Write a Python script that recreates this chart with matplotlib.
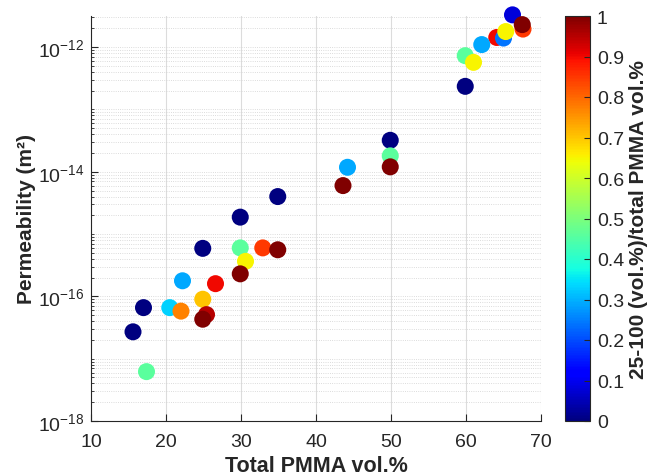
import numpy as np
import matplotlib
matplotlib.use("Agg")
import matplotlib.pyplot as plt
from matplotlib.ticker import LogLocator, FixedLocator, NullFormatter

plt.rcParams['font.family'] = ['Liberation Sans', 'DejaVu Sans']

# Total PMMA vol.% (x), permeability m^2 (y), ratio (color)
pmma = [66.2, 67.6, 67.5, 64.1, 65.0, 65.3, 62.1, 59.9, 61.0, 59.9,
        49.9, 49.9, 49.9, 44.2, 43.6, 34.9, 32.9, 34.9,
        29.9, 24.9, 29.9, 30.6, 29.9, 26.6, 22.2, 24.9,
        17.0, 20.5, 22.0, 25.4, 24.9, 15.6, 17.4]
perm = [3.3e-12, 1.95e-12, 2.3e-12, 1.43e-12, 1.4e-12, 1.78e-12, 1.1e-12, 7.3e-13, 5.7e-13, 2.35e-13,
        3.2e-14, 1.8e-14, 1.2e-14, 1.18e-14, 6.0e-15, 4.0e-15, 6.0e-16, 5.6e-16,
        1.87e-15, 5.9e-16, 6.0e-16, 3.65e-16, 2.3e-16, 1.6e-16, 1.78e-16, 9.0e-17,
        6.6e-17, 6.6e-17, 5.8e-17, 5.1e-17, 4.3e-17, 2.7e-17, 6.2e-18]
ratio = [0.08, 0.85, 1.0, 0.9, 0.24, 0.65, 0.29, 0.46, 0.65, 0.0,
         0.0, 0.46, 1.0, 0.29, 1.0, 0.0, 0.85, 1.0,
         0.0, 0.0, 0.46, 0.65, 1.0, 0.9, 0.29, 0.7,
         0.0, 0.33, 0.77, 0.95, 1.0, 0.0, 0.46]

cbar_ticks = [0, 0.1, 0.2, 0.3, 0.4, 0.5, 0.6, 0.7, 0.8, 0.9, 1]
cbar_labels = ['0', '0.1', '0.2', '0.3', '0.4', '0.5', '0.6', '0.7', '0.8', '0.9', '1']
x_ticks = [10, 20, 30, 40, 50, 60, 70]

fig = plt.figure(figsize=(6.53, 4.77), dpi=100)
ax = fig.add_axes([91/653, 55/477, 450/653, 405/477])
cax = fig.add_axes([565/653, 55/477, 25/653, 405/477])

sc = ax.scatter(pmma, perm, c=ratio, cmap='jet', vmin=0, vmax=1, s=150,
                edgecolors='none', zorder=3, clip_on=False)
ax.set_yscale('log')
ax.set_xlim(10, 70)
ax.set_ylim(1e-18, 10**-11.5)
ax.set_xticks(x_ticks)
ax.yaxis.set_major_locator(FixedLocator([1e-18, 1e-16, 1e-14, 1e-12]))
ax.yaxis.set_minor_locator(LogLocator(base=10, subs=np.arange(1, 10), numticks=30))
ax.yaxis.set_minor_formatter(NullFormatter())

grey = '#262626'
ax.grid(True, axis='x', which='major', color='#dcdcdc', linewidth=0.8, zorder=0)
ax.grid(True, axis='y', which='minor', color='#d0d0d0', linewidth=0.6, linestyle=':', zorder=0)
ax.grid(True, axis='y', which='major', color='#d0d0d0', linewidth=0.6, linestyle=':', zorder=0)
for s in ['top', 'right']:
    ax.spines[s].set_visible(False)
for s in ['left', 'bottom']:
    ax.spines[s].set_color(grey)
    ax.spines[s].set_linewidth(0.8)
ax.tick_params(which='both', direction='in', colors=grey, labelsize=14)
ax.tick_params(axis='x', pad=9)
ax.tick_params(axis='y', pad=5)
ax.tick_params(which='major', length=5)
ax.tick_params(which='minor', length=2.5)
ax.set_xlabel('Total PMMA vol.%', fontsize=15.5, fontweight='bold', color=grey)
ax.set_ylabel('Permeability (m²)', fontsize=15, fontweight='bold', color=grey)
ax.xaxis.set_label_coords(0.5, -0.085)
ax.yaxis.set_label_coords(-0.122, 0.5)

cb = fig.colorbar(sc, cax=cax, ticks=cbar_ticks)
cb.ax.set_yticklabels(cbar_labels)
cb.ax.tick_params(direction='in', colors=grey, labelsize=14, length=4, pad=5)
cb.outline.set_edgecolor(grey)
cb.outline.set_linewidth(0.8)
cb.set_label('25-100 (vol.%)/total PMMA vol.%', fontsize=15, fontweight='bold', color=grey)
cb.ax.yaxis.set_label_coords(2.58, 0.5)

fig.savefig('out.png', dpi=100)
